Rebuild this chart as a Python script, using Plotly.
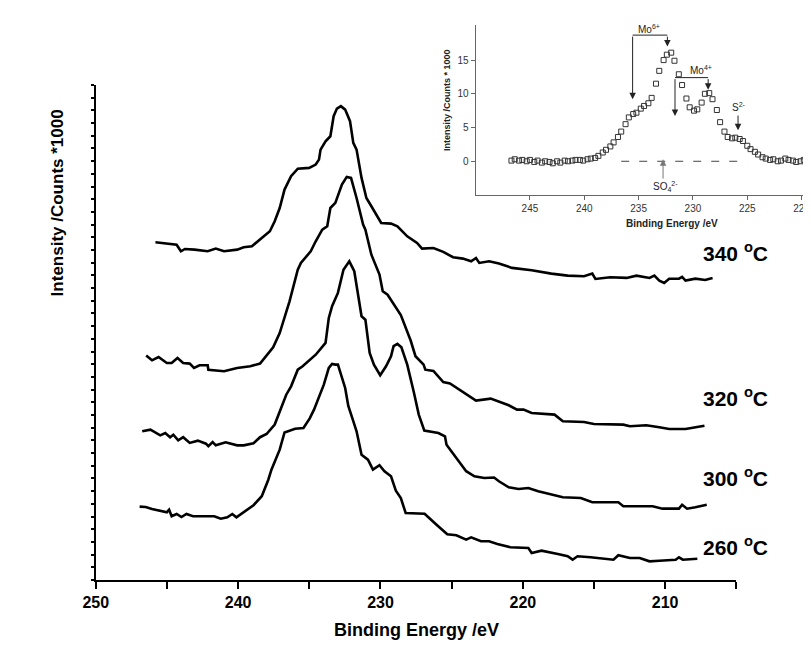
import plotly.graph_objects as go

# ---------------- main spectra (binding energy eV, offset intensity) ----------------
be_340 = [245.81, 244.90, 244.32, 244.02, 243.74, 243.06, 242.14, 241.57, 240.99, 240.07, 239.61, 239.03,
          238.46, 237.77, 237.43, 237.08, 236.74, 236.28, 235.81, 235.01, 234.55, 234.32, 234.21, 233.86,
          233.52, 233.29, 233.06, 232.78, 232.48, 232.14, 231.91, 231.68, 231.33, 230.99, 230.64, 230.30,
          229.95, 229.26, 228.81, 228.12, 227.43, 227.08, 226.28, 225.59, 224.90, 224.21, 223.63, 223.29,
          223.06, 222.37, 221.68, 220.76, 219.38, 218.00, 216.85, 215.70, 215.12, 214.90, 213.86, 212.71,
          212.02, 211.10, 210.76, 210.41, 210.07, 209.72, 209.03, 208.81, 208.57, 207.88, 207.19, 206.67]
int_340 = [26.61, 26.50, 26.42, 25.90, 26.08, 26.03, 25.90, 26.11, 25.90, 26.03, 26.22, 26.30,
           26.82, 27.48, 28.27, 29.31, 30.76, 31.81, 32.41, 32.47, 32.73, 33.12, 33.91, 34.57,
           34.96, 36.54, 37.14, 37.33, 37.06, 36.15, 34.44, 33.91, 31.68, 30.10, 29.45, 28.79,
           28.13, 28.08, 27.87, 27.08, 26.56, 26.11, 26.16, 25.85, 25.43, 25.32, 25.11, 25.37,
           24.98, 25.11, 24.93, 24.59, 24.41, 24.14, 23.98, 23.93, 24.14, 23.72, 23.85, 23.80,
           23.98, 23.80, 23.98, 23.59, 23.40, 23.74, 23.74, 23.88, 23.59, 23.74, 23.64, 23.80]

be_320 = [246.46, 246.05, 245.59, 245.01, 244.67, 244.26, 243.86, 243.40, 243.10, 242.71, 242.14, 242.09,
          240.99, 240.07, 239.15, 238.46, 237.54, 237.08, 236.39, 235.81, 235.59, 234.90, 234.55, 234.09,
          233.74, 233.52, 233.17, 232.71, 232.37, 232.07, 231.68, 231.22, 231.06, 230.64, 230.07, 229.84,
          229.50, 228.57, 227.88, 227.54, 226.97, 226.85, 226.28, 225.59, 225.12, 224.28, 223.29, 222.26,
          220.99, 220.41, 219.95, 219.38, 217.77, 217.19, 215.70, 215.01, 212.94, 212.48, 211.33, 210.41,
          209.72, 208.57, 207.88, 207.24]
int_320 = [17.68, 17.31, 17.57, 17.10, 17.10, 17.49, 17.10, 17.05, 16.71, 16.92, 16.92, 16.57,
           16.45, 16.71, 16.84, 17.05, 18.34, 19.46, 21.96, 24.45, 24.98, 25.90, 26.69, 27.60,
           27.87, 29.31, 29.71, 31.15, 31.76, 31.68, 30.10, 28.00, 27.60, 25.63, 24.06, 22.75,
           22.48, 20.88, 18.87, 17.63, 16.97, 16.57, 16.47, 15.60, 15.48, 14.87, 14.13, 14.29,
           13.77, 13.42, 13.42, 13.16, 13.03, 12.51, 12.45, 12.29, 12.24, 12.11, 12.19, 12.03,
           11.90, 11.90, 12.06, 12.16]

be_300 = [246.74, 246.16, 245.47, 245.12, 244.78, 244.55, 244.21, 243.86, 243.40, 242.83, 242.26, 242.09,
          241.79, 241.57, 240.88, 240.07, 239.61, 238.92, 238.46, 238.00, 237.43, 237.17, 236.62, 236.28,
          235.81, 235.47, 234.55, 233.86, 233.63, 233.40, 232.99, 232.60, 232.19, 231.84, 231.33, 231.06,
          230.76, 230.46, 230.02, 229.61, 229.26, 229.08, 228.81, 228.53, 228.12, 227.66, 227.31, 226.92,
          226.34, 225.93, 225.47, 225.36, 224.67, 223.98, 223.40, 222.71, 222.02, 221.68, 220.99, 220.30,
          219.61, 218.92, 217.19, 215.93, 215.12, 213.29, 212.94, 210.88, 210.19, 209.03, 208.81, 208.46,
          207.88, 207.08]
int_300 = [11.72, 11.84, 11.40, 11.58, 11.25, 11.45, 11.01, 11.25, 10.80, 10.98, 10.74, 10.54,
           10.87, 10.61, 10.85, 10.61, 10.61, 10.77, 11.25, 11.50, 12.25, 13.03, 14.60, 15.26,
           16.57, 16.84, 17.75, 18.68, 20.65, 21.57, 22.62, 24.45, 25.11, 24.33, 20.78, 20.51,
           17.89, 16.97, 16.13, 16.84, 17.63, 18.42, 18.60, 18.34, 16.97, 14.81, 13.03, 11.77,
           11.69, 11.58, 11.32, 10.66, 9.61, 8.57, 8.17, 8.04, 8.08, 7.78, 7.30, 7.17,
           7.25, 6.99, 6.52, 6.46, 6.12, 6.12, 5.81, 5.81, 5.62, 5.62, 5.93, 5.62,
           5.73, 5.93]

be_260 = [246.92, 246.50, 246.05, 245.01, 244.85, 244.67, 244.32, 243.98, 243.63, 243.17, 241.68, 241.22,
          240.76, 240.41, 240.12, 239.61, 238.92, 238.34, 237.88, 237.66, 237.31, 237.08, 236.74, 236.00,
          235.41, 234.97, 234.67, 234.32, 233.98, 233.63, 233.40, 233.17, 232.99, 232.48, 232.26, 231.91,
          231.68, 231.33, 230.88, 230.53, 230.07, 229.72, 229.26, 228.92, 228.57, 228.23, 226.90, 226.10,
          225.31, 224.67, 223.98, 223.63, 222.94, 222.37, 221.79, 220.88, 219.61, 219.38, 218.69, 217.54,
          216.85, 216.50, 216.16, 215.24, 213.63, 213.29, 212.48, 211.79, 211.10, 210.41, 209.26, 209.03,
          208.76, 207.74]
int_260 = [5.78, 5.75, 5.60, 5.33, 5.54, 5.02, 5.20, 4.96, 5.20, 5.02, 5.02, 4.83,
           4.94, 5.20, 4.94, 5.36, 5.89, 6.60, 7.90, 8.69, 9.69, 10.27, 11.62, 11.92,
           11.98, 12.73, 13.42, 14.48, 15.39, 16.71, 17.02, 16.97, 16.97, 15.13, 13.71, 12.51,
           11.72, 9.87, 9.48, 8.69, 9.04, 8.57, 8.17, 7.04, 6.46, 5.28, 5.22, 4.39,
           3.60, 3.52, 3.18, 3.36, 3.05, 3.05, 2.84, 2.58, 2.52, 2.13, 2.31, 2.05,
           1.87, 1.60, 1.87, 1.79, 1.60, 1.95, 1.73, 1.73, 1.47, 1.52, 1.60, 1.79,
           1.60, 1.68]

temp_labels = ["340", "320", "300", "260"]
label_levels = [25.85, 14.42, 8.12, 2.68]

x_ticks = [250, 240, 230, 220, 210]

# ---------------- inset spectrum ----------------
inset_be = [246.7, 246.4, 246.0, 245.7, 245.3, 245.0, 244.6, 244.3, 243.9, 243.6, 243.2, 242.9,
            242.5, 242.2, 241.8, 241.5, 241.1, 240.8, 240.4, 240.1, 239.7, 239.4, 239.0, 238.7,
            238.3, 238.0, 237.6, 237.3, 236.9, 236.6, 236.2, 235.9, 235.5, 235.2, 234.8, 234.5,
            234.1, 233.8, 233.4, 233.1, 232.7, 232.4, 232.0, 231.7, 231.3, 231.0, 230.6, 230.3,
            229.9, 229.6, 229.2, 228.9, 228.5, 228.2, 227.8, 227.5, 227.1, 226.8, 226.4, 226.1,
            225.7, 225.4, 225.0, 224.7, 224.3, 224.0, 223.6, 223.3, 222.9, 222.6, 222.2, 221.9,
            221.5, 221.2, 220.8, 220.5, 220.1, 219.8, 219.4, 219.1, 218.7, 218.4]
inset_int = [0.1, 0.3, 0.1, 0.2, 0.0, 0.2, -0.1, 0.1, -0.2, 0.0, -0.1, -0.3,
             0.0, -0.2, 0.1, 0.0, 0.1, 0.2, 0.2, 0.1, 0.3, 0.4, 0.5, 0.8,
             1.3, 1.7, 2.2, 2.8, 3.6, 4.4, 5.5, 6.5, 7.0, 7.2, 7.8, 8.2,
             8.6, 9.4, 11.5, 13.4, 15.0, 15.8, 16.1, 14.9, 12.9, 11.3, 9.3, 8.0,
             7.5, 7.7, 8.7, 10.0, 10.1, 9.2, 7.6, 5.8, 4.4, 3.6, 3.4, 3.5,
             3.3, 3.0, 2.3, 1.8, 1.4, 1.0, 0.6, 0.4, 0.2, 0.3, 0.0, 0.1,
             0.4, 0.2, 0.1, -0.1, 0.0, 0.2, 0.0, 0.1, 0.1, 0.0]
inset_xticks = [245, 240, 235, 230, 225, 220]
inset_yticks = [0, 5, 10, 15]

# ---------------- figure ----------------
W, H = 811, 646
fig = go.Figure()

for be, it in [(be_340, int_340), (be_320, int_320), (be_300, int_300), (be_260, int_260)]:
    fig.add_trace(go.Scatter(x=be, y=it, mode="lines", xaxis="x", yaxis="y",
                             line=dict(color="black", width=2.6), showlegend=False,
                             hoverinfo="skip"))

fig.add_trace(go.Scatter(x=inset_be, y=inset_int, mode="markers", xaxis="x2", yaxis="y2",
                         marker=dict(symbol="square-open", size=5, color="#333333",
                                     line=dict(width=1)),
                         showlegend=False, hoverinfo="skip"))

ann = []
shapes = []

# temperature labels
for t, lv in zip(temp_labels, label_levels):
    ann.append(dict(x=207.45, y=lv, xref="x", yref="y", xanchor="left", yanchor="middle",
                    text=f"{t} <sup>o</sup>C", showarrow=False,
                    font=dict(family="Arial, Liberation Sans", size=21, color="black", weight="bold")))

# axis titles (main)
ann.append(dict(x=38 / W, y=1 - 195 / H, xref="paper", yref="paper", text="Intensity /Counts *1000",
                textangle=-90, showarrow=False, xanchor="center", yanchor="middle",
                font=dict(family="Arial, Liberation Sans", size=17, color="black", weight="bold")))
ann.append(dict(x=402 / W, y=1 - 622 / H, xref="paper", yref="paper", text="Binding Energy /eV",
                showarrow=False, xanchor="center", yanchor="middle",
                font=dict(family="Arial, Liberation Sans", size=18, color="black", weight="bold")))

# inset titles
ann.append(dict(x=433 / W, y=1 - 92 / H, xref="paper", yref="paper", text="Intensity /Counts * 1000",
                textangle=-90, showarrow=False, xanchor="center", yanchor="middle",
                font=dict(family="Arial, Liberation Sans", size=9, color="#222", weight="bold")))
ann.append(dict(x=662 / W, y=1 - 216 / H, xref="paper", yref="paper", text="Binding Energy /eV",
                showarrow=False, xanchor="center", yanchor="middle",
                font=dict(family="Arial, Liberation Sans", size=10, color="#222", weight="bold")))

small = dict(family="Arial, Liberation Sans", size=10, color="#222")
# Mo6+
ann.append(dict(x=234.0, y=19.6, xref="x2", yref="y2", text="Mo<sup>6+</sup>", showarrow=False, font=small))
shapes.append(dict(type="line", xref="x2", yref="y2", x0=235.55, x1=232.35, y0=18.7, y1=18.7,
                   line=dict(color="#222", width=1)))
for xa, ytip in [(235.55, 9.2), (232.35, 17.0)]:
    ann.append(dict(x=xa, y=ytip, ax=xa, ay=18.7, xref="x2", yref="y2", axref="x2", ayref="y2",
                    text="", showarrow=True, arrowhead=2, arrowsize=1.3, arrowwidth=1, arrowcolor="#222"))
# Mo4+
ann.append(dict(x=229.3, y=13.6, xref="x2", yref="y2", text="Mo<sup>4+</sup>", showarrow=False, font=small))
shapes.append(dict(type="line", xref="x2", yref="y2", x0=231.65, x1=228.6, y0=12.4, y1=12.4,
                   line=dict(color="#222", width=1)))
for xa, ytip in [(231.65, 6.7), (228.6, 10.6)]:
    ann.append(dict(x=xa, y=ytip, ax=xa, ay=12.4, xref="x2", yref="y2", axref="x2", ayref="y2",
                    text="", showarrow=True, arrowhead=2, arrowsize=1.3, arrowwidth=1, arrowcolor="#222"))
# S2-
ann.append(dict(x=225.8, y=8.0, xref="x2", yref="y2", text="S<sup>2-</sup>", showarrow=False, font=small))
ann.append(dict(x=225.85, y=4.6, ax=225.85, ay=7.0, xref="x2", yref="y2", axref="x2", ayref="y2",
                text="", showarrow=True, arrowhead=2, arrowsize=1.3, arrowwidth=1, arrowcolor="#222"))
# SO4 2-
ann.append(dict(x=232.5, y=-3.8, xref="x2", yref="y2", text="SO<sub>4</sub><sup>2-</sup>",
                showarrow=False, font=small))
ann.append(dict(x=232.75, y=0.3, ax=232.75, ay=-2.8, xref="x2", yref="y2", axref="x2", ayref="y2",
                text="", showarrow=True, arrowhead=2, arrowsize=1.3, arrowwidth=1, arrowcolor="#777"))
# dashed baseline
shapes.append(dict(type="line", xref="x2", yref="y2", x0=236.6, x1=225.0, y0=0, y1=0,
                   line=dict(color="#444", width=1, dash="8px,10px")))

fig.update_layout(
    width=W, height=H,
    margin=dict(l=0, r=0, t=0, b=0),
    paper_bgcolor="white", plot_bgcolor="rgba(0,0,0,0)",
    showlegend=False,
    annotations=ann, shapes=shapes,
    xaxis=dict(domain=[76 / W, 727 / W], range=[250, 205], anchor="y",
               showline=True, linecolor="black", linewidth=2,
               ticks="outside", ticklen=7, tickwidth=2, tickcolor="black",
               tickvals=x_ticks, ticktext=[str(v) for v in x_ticks],
               minor=dict(dtick=5, tick0=245, ticks="outside", ticklen=7, tickwidth=2, tickcolor="black"),
               tickfont=dict(family="Arial, Liberation Sans", size=16, color="black", weight="bold"),
               showgrid=False, zeroline=False),
    yaxis=dict(domain=[1 - 572 / H, 1 - 77 / H], range=[0, 39], anchor="x",
               showline=True, linecolor="black", linewidth=2,
               ticks="outside", ticklen=3, tickwidth=2, tickcolor="black", dtick=1, tick0=0,
               showticklabels=False, showgrid=False, zeroline=False),
    xaxis2=dict(domain=[462 / W, 1.0], range=[250, 218.4], anchor="y2",
                showline=True, linecolor="#666", linewidth=1,
                ticks="outside", ticklen=4, tickwidth=1, tickcolor="#666",
                tickvals=inset_xticks, ticktext=[str(v) for v in inset_xticks],
                tickfont=dict(family="Arial, Liberation Sans", size=10, color="#333"),
                showgrid=False, zeroline=False),
    yaxis2=dict(domain=[1 - 187 / H, 1 - 17 / H], range=[-5, 20.2], anchor="x2",
                showline=True, linecolor="#666", linewidth=1,
                ticks="outside", ticklen=4, tickwidth=1, tickcolor="#666",
                tickvals=inset_yticks, ticktext=[str(v) for v in inset_yticks],
                tickfont=dict(family="Arial, Liberation Sans", size=10, color="#333"),
                showgrid=False, zeroline=False),
)

fig.write_html("out.html")
